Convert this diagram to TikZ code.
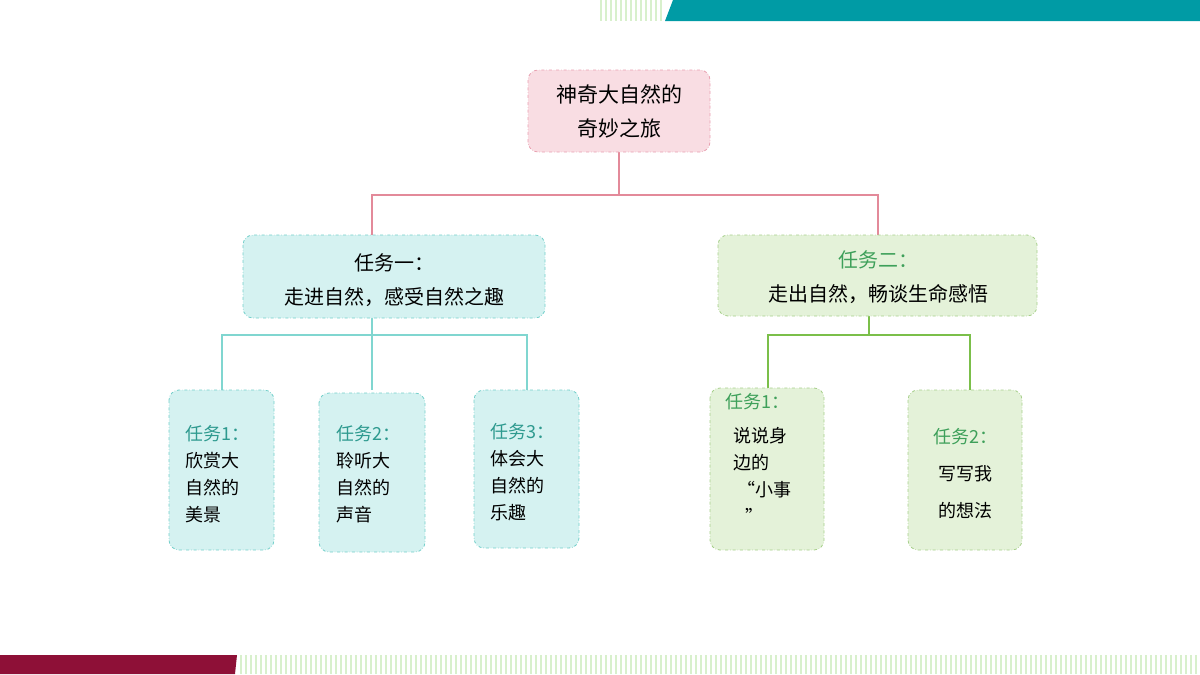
\documentclass[tikz,border=0pt]{standalone}
\usepackage{fontspec}
\setmainfont{Noto Sans CJK SC}
\definecolor{teal1}{HTML}{009BA5}
\definecolor{maroon1}{HTML}{8E1037}
\definecolor{pinkf}{HTML}{F9DDE3}
\definecolor{pinkd}{HTML}{E8A0B0}
\definecolor{pinkl}{HTML}{E38A9A}
\definecolor{cyanf}{HTML}{D5F2F1}
\definecolor{cyand}{HTML}{74CFCA}
\definecolor{cyanl}{HTML}{80D6D0}
\definecolor{greenf}{HTML}{E4F2D9}
\definecolor{greend}{HTML}{A6CF8A}
\definecolor{greenl}{HTML}{7BBF4A}
\definecolor{lbl1}{HTML}{2E9A8F}
\definecolor{lbl2}{HTML}{3EA05A}
\definecolor{stripe}{HTML}{D8F0CC}
\begin{document}
\begin{tikzpicture}[x=1pt,y=-1pt,
 box/.style={rounded corners=10pt,dash dot,line width=0.8pt},
 rootbox/.style={box,fill=pinkf,draw=pinkd},
 cbox/.style={box,fill=cyanf,draw=cyand},
 gbox/.style={box,fill=greenf,draw=greend},
 txt/.style={font=\fontsize{18}{27}\selectfont,align=left,anchor=north west}]
\useasboundingbox (0,0) rectangle (1200,675);
% top bar
\foreach \i in {0,...,12} \fill[stripe] (600+\i*5,0) rectangle (601.5+\i*5,21);
\fill[teal1] (673,0) -- (1200,0) -- (1200,21) -- (665,21) -- cycle;
% bottom bar
\foreach \i in {0,...,192} \fill[stripe] (240+\i*5,655) rectangle (241.5+\i*5,674);
\fill[maroon1] (0,655) -- (237,655) -- (235,674) -- (0,674) -- cycle;
% connectors
\draw[pinkl,line width=2pt] (619,152) -- (619,195) (372,235) -- (372,195) -- (878,195) -- (878,235);
\draw[cyanl,line width=2pt] (372,318) -- (372,390) (222,390) -- (222,335) -- (527,335) -- (527,390);
\draw[greenl,line width=2pt] (869,316) -- (869,335) (768,390) -- (768,335) -- (970,335) -- (970,390);
% boxes
\draw[rootbox] (528,70) rectangle (710,152);
\node[font=\fontsize{21}{34}\selectfont,align=center] (root) at (619,111) {神奇大自然的\\奇妙之旅};
\draw[cbox] (243,235) rectangle (545,318);
\node[font=\fontsize{20}{34}\selectfont,align=center] (t1) at (394,280) {任务一：\\走进自然，感受自然之趣};
\draw[gbox] (718,235) rectangle (1037,316);
\node[font=\fontsize{20}{34}\selectfont,align=center] (t2) at (878,277) {\textcolor{lbl2}{任务二：}\\走出自然，畅谈生命感悟};
\draw[cbox] (169,390) rectangle (274,550);
\node[txt] (a1) at (182,422) {\textcolor{lbl1}{任务1：}\\欣赏大\\自然的\\美景};
\draw[cbox] (319,393) rectangle (425,552);
\node[txt] (a2) at (333,422) {\textcolor{lbl1}{任务2：}\\聆听大\\自然的\\声音};
\draw[cbox] (474,390) rectangle (579,548);
\node[txt] (a3) at (487,420) {\textcolor{lbl1}{任务3：}\\体会大\\自然的\\乐趣};
\draw[gbox] (710,388) rectangle (824,550);
\node[font=\fontsize{18}{28}\selectfont,align=left,anchor=north west] (b1) at (722,390) {\textcolor{lbl2}{任务1：}};
\node[font=\fontsize{18}{27}\selectfont,align=left,anchor=north west] (b1t) at (730,424) {说说身\\边的\\~“小事\\~~~”};
\draw[gbox] (908,390) rectangle (1022,550);
\node[font=\fontsize{18}{37}\selectfont,align=center] (b2) at (965,474) {\textcolor{lbl2}{任务2：}\\写写我\\的想法};
\end{tikzpicture}
\end{document}
